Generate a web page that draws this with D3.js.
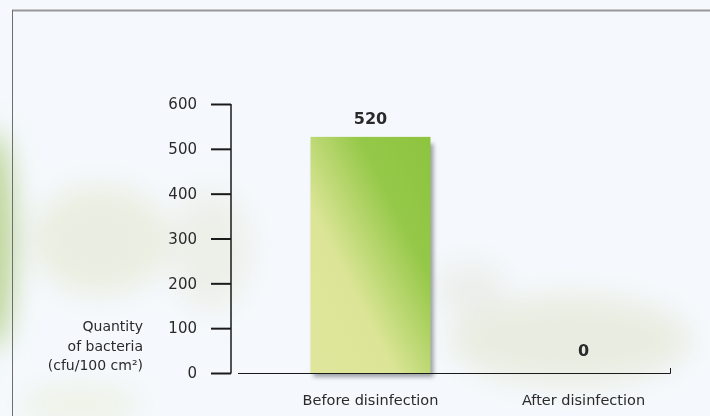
<!DOCTYPE html>
<html>
<head>
<meta charset="utf-8">
<script src="https://cdn.jsdelivr.net/npm/d3@7"></script>
<style>
  body { margin: 0; background: #f5f9fd; }
  svg { display: block; }
  text { font-family: "DejaVu Sans", sans-serif; fill: #2a2a2a; }
</style>
</head>
<body>
<script>

// chart data
var categories = ["Before disinfection", "After disinfection"];
var values = [520, 0];
var yTicks = [0, 100, 200, 300, 400, 500, 600];
var yTitle = ["Quantity", "of bacteria", "(cfu/100 cm²)"];

var W = 710, H = 416;

var svg = d3.select("body").append("svg")
	.attr("width", W)
	.attr("height", H);

var defs = svg.append("defs");

// soft blur for the faded leaves in the background
defs.append("filter").attr("id", "blur")
	.attr("x", "-50%").attr("y", "-50%").attr("width", "200%").attr("height", "200%")
	.append("feGaussianBlur").attr("stdDeviation", 14);

defs.append("filter").attr("id", "shadow")
	.attr("x", "-20%").attr("y", "-20%").attr("width", "140%").attr("height", "140%")
	.append("feGaussianBlur").attr("stdDeviation", 2);

var grad = defs.append("linearGradient").attr("id", "barGrad")
	.attr("x1", "0%").attr("y1", "100%").attr("x2", "100%").attr("y2", "0%");
grad.append("stop").attr("offset", "0%").attr("stop-color", "#dfe69c");
grad.append("stop").attr("offset", "35%").attr("stop-color", "#dce597");
grad.append("stop").attr("offset", "70%").attr("stop-color", "#95c848");
grad.append("stop").attr("offset", "100%").attr("stop-color", "#8dc43f");

// background
svg.append("rect").attr("width", W).attr("height", H).attr("fill", "#f5f9fd");

var bg = svg.append("g").attr("filter", "url(#blur)");
bg.append("ellipse").attr("cx", -8).attr("cy", 240).attr("rx", 22).attr("ry", 110)
	.attr("fill", "#aecb7c").attr("opacity", 0.8);
bg.append("ellipse").attr("cx", 100).attr("cy", 240).attr("rx", 70).attr("ry", 55)
	.attr("fill", "#e6e9d6").attr("opacity", 0.7);
bg.append("ellipse").attr("cx", 210).attr("cy", 250).attr("rx", 40).attr("ry", 60)
	.attr("fill", "#e8eadc").attr("opacity", 0.6);
bg.append("ellipse").attr("cx", 570).attr("cy", 340).attr("rx", 120).attr("ry", 45)
	.attr("fill", "#e6eada").attr("opacity", 0.8);
bg.append("ellipse").attr("cx", 470).attr("cy", 290).attr("rx", 35).attr("ry", 28)
	.attr("fill", "#e6e8df").attr("opacity", 0.6);
bg.append("ellipse").attr("cx", 80).attr("cy", 405).attr("rx", 60).attr("ry", 20)
	.attr("fill", "#eaeed8").attr("opacity", 0.6);

// frame
svg.append("line").attr("x1", 12).attr("x2", W).attr("y1", 10.5).attr("y2", 10.5)
	.attr("stroke", "#979797").attr("stroke-width", 2);
svg.append("line").attr("x1", 12.5).attr("x2", 12.5).attr("y1", 10).attr("y2", H)
	.attr("stroke", "#6e6e6e").attr("stroke-width", 1);

// scales
var y = d3.scaleLinear().domain([0, 600]).range([373, 104]);
var x = d3.scaleBand().domain(categories).range([264, 690]).paddingInner(0).paddingOuter(0);
var barW = 120;

// bar shadows
svg.append("g").selectAll("rect.shadow")
	.data(values.filter(function (d) { return d > 0; }))
	.enter().append("rect")
	.attr("x", function (d, i) { return x(categories[i]) + x.bandwidth() / 2 - barW / 2 + 3; })
	.attr("y", function (d) { return y(d) + 4; })
	.attr("width", barW)
	.attr("height", function (d) { return y(0) - y(d); })
	.attr("fill", "#7d8388")
	.attr("opacity", 0.75)
	.attr("filter", "url(#shadow)");

// bars
svg.append("g").selectAll("rect.bar")
	.data(values)
	.enter().append("rect")
	.attr("class", "bar")
	.attr("x", function (d, i) { return x(categories[i]) + x.bandwidth() / 2 - barW / 2; })
	.attr("y", function (d) { return y(d) - 3; })
	.attr("width", barW)
	.attr("height", function (d) { return d > 0 ? y(0) - y(d) + 3 : 0; })
	.attr("fill", "url(#barGrad)");

// value labels
svg.append("g").selectAll("text")
	.data(values)
	.enter().append("text")
	.attr("x", function (d, i) { return x(categories[i]) + x.bandwidth() / 2; })
	.attr("y", function (d) { return y(d) - (d > 0 ? 16 : 17); })
	.attr("text-anchor", "middle")
	.attr("font-weight", "bold")
	.attr("font-size", 16)
	.text(function (d) { return d; });

// y axis
var yAxis = d3.axisLeft(y).tickValues(yTicks).tickSize(20).tickPadding(14);
var gy = svg.append("g")
	.attr("transform", "translate(231,0)")
	.call(yAxis);
gy.select(".domain").remove();
gy.append("line").attr("x1", 0).attr("x2", 0).attr("y1", 104).attr("y2", 373.5)
	.attr("stroke", "#1a1a1a").attr("stroke-width", 1.5);
gy.selectAll(".tick line").attr("stroke", "#1a1a1a").attr("stroke-width", 2);
gy.selectAll(".tick text")
	.style("font-family", "DejaVu Sans, sans-serif")
	.attr("font-size", 15)
	.attr("fill", "#2a2a2a");

// x axis
var xAxis = d3.axisBottom(x).tickSize(0).tickPadding(22);
var gx = svg.append("g")
	.attr("transform", "translate(0,373)")
	.call(xAxis);
gx.select(".domain").remove();
gx.append("path").attr("d", "M238,0.5H670.5V-5")
	.attr("fill", "none").attr("stroke", "#1a1a1a").attr("stroke-width", 1);
gx.selectAll(".tick text")
	.style("font-family", "DejaVu Sans, sans-serif")
	.attr("font-size", 14.5)
	.attr("fill", "#2a2a2a");

// y title
svg.append("text")
	.attr("text-anchor", "end")
	.attr("font-size", 14)
	.selectAll("tspan")
	.data(yTitle)
	.enter().append("tspan")
	.attr("x", 143)
	.attr("y", function (d, i) { return 331 + i * 19.5; })
	.text(function (d) { return d; });

</script>
</body>
</html>
